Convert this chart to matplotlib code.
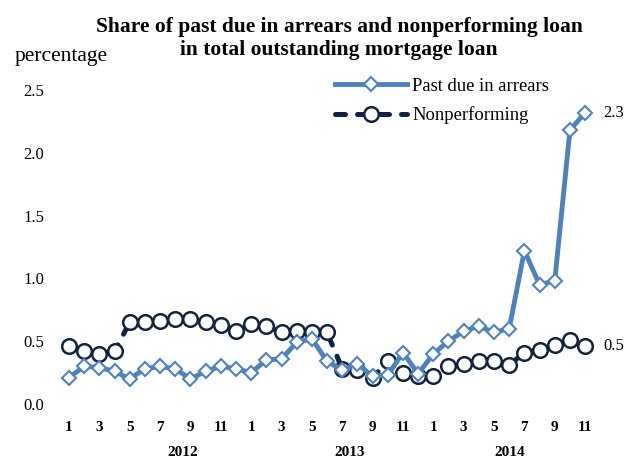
import numpy as np
import matplotlib.pyplot as plt

plt.rcParams['font.family'] = ['Liberation Serif', 'DejaVu Serif']

# monthly data, Jan 2012 - Nov 2014
months = np.arange(1, 36)
past_due = [0.21, 0.30, 0.29, 0.26, 0.20, 0.28, 0.30, 0.28, 0.20, 0.26, 0.30, 0.28,
            0.25, 0.35, 0.36, 0.49, 0.52, 0.34, 0.27, 0.32, 0.22, 0.23, 0.41, 0.24,
            0.40, 0.50, 0.58, 0.62, 0.57, 0.60, 1.22, 0.95, 0.98, 2.18, 2.32]
nonperf = [0.46, 0.42, 0.40, 0.42, 0.65, 0.65, 0.66, 0.68, 0.68, 0.65, 0.63, 0.58,
           0.64, 0.62, 0.57, 0.58, 0.57, 0.57, 0.28, 0.27, 0.21, 0.34, 0.25, 0.22,
           0.22, 0.30, 0.32, 0.34, 0.34, 0.31, 0.41, 0.43, 0.47, 0.51, 0.46]
tick_pos = np.arange(1, 36, 2)
tick_lab = [str((m - 1) % 12 + 1) for m in tick_pos]
years = ['2012', '2013', '2014']
year_pos = [8.5, 19.5, 30.0]

blue = '#4f81bd'
navy = '#10243f'

fig = plt.figure(figsize=(6.29, 4.59), dpi=100)
ax = fig.add_axes([53.8 / 629, 55 / 459, 546.5 / 629, 314 / 459])

ax.plot(months, past_due, '-', color=blue, lw=3.5, marker='D', ms=7,
        mfc='white', mec=blue, mew=1.5, label='Past due in arrears', clip_on=False, zorder=3)
ax.plot(months, nonperf, '--', color=navy, lw=3.6, marker='o', ms=10.5,
        mfc='white', mec=navy, mew=1.8, dash_capstyle='round', dashes=(2, 2.4),
        label='Nonperforming', clip_on=False, zorder=2)

ax.set_xlim(0, 36)
ax.set_ylim(0, 2.5)
ax.set_yticks(np.arange(0, 2.51, 0.5))
ax.set_yticklabels(['%.1f' % v for v in np.arange(0, 2.51, 0.5)], fontsize=12)
ax.set_xticks(tick_pos)
ax.set_xticklabels(tick_lab, fontsize=11, fontweight='bold')
ax.tick_params(length=0, axis='y', pad=7)
ax.tick_params(length=0, axis='x', pad=12)
for s in ax.spines.values():
    s.set_visible(False)

for y, p in zip(years, year_pos):
    ax.text(p, -0.39, y, ha='center', va='center', fontsize=11, fontweight='bold')

ax.text(36.2, past_due[-1], '2.3', ha='left', va='center', fontsize=12)
ax.text(36.2, nonperf[-1], '0.5', ha='left', va='center', fontsize=12)

fig.text(339 / 629, 1 - 38.5 / 459, 'Share of past due in arrears and nonperforming loan\nin total outstanding mortgage loan',
         ha='center', va='center', fontsize=15.5, fontweight='bold', linespacing=1.2)
fig.text(15 / 629, 1 - 57 / 459, 'percentage', ha='left', va='center', fontsize=15.5)

ax.legend(loc='center left', bbox_to_anchor=(0.515, 0.965), frameon=False, fontsize=13.4,
          handlelength=3.87, handletextpad=0.27, labelspacing=0.6, borderpad=0, borderaxespad=0)

fig.savefig('out.png', dpi=100)
